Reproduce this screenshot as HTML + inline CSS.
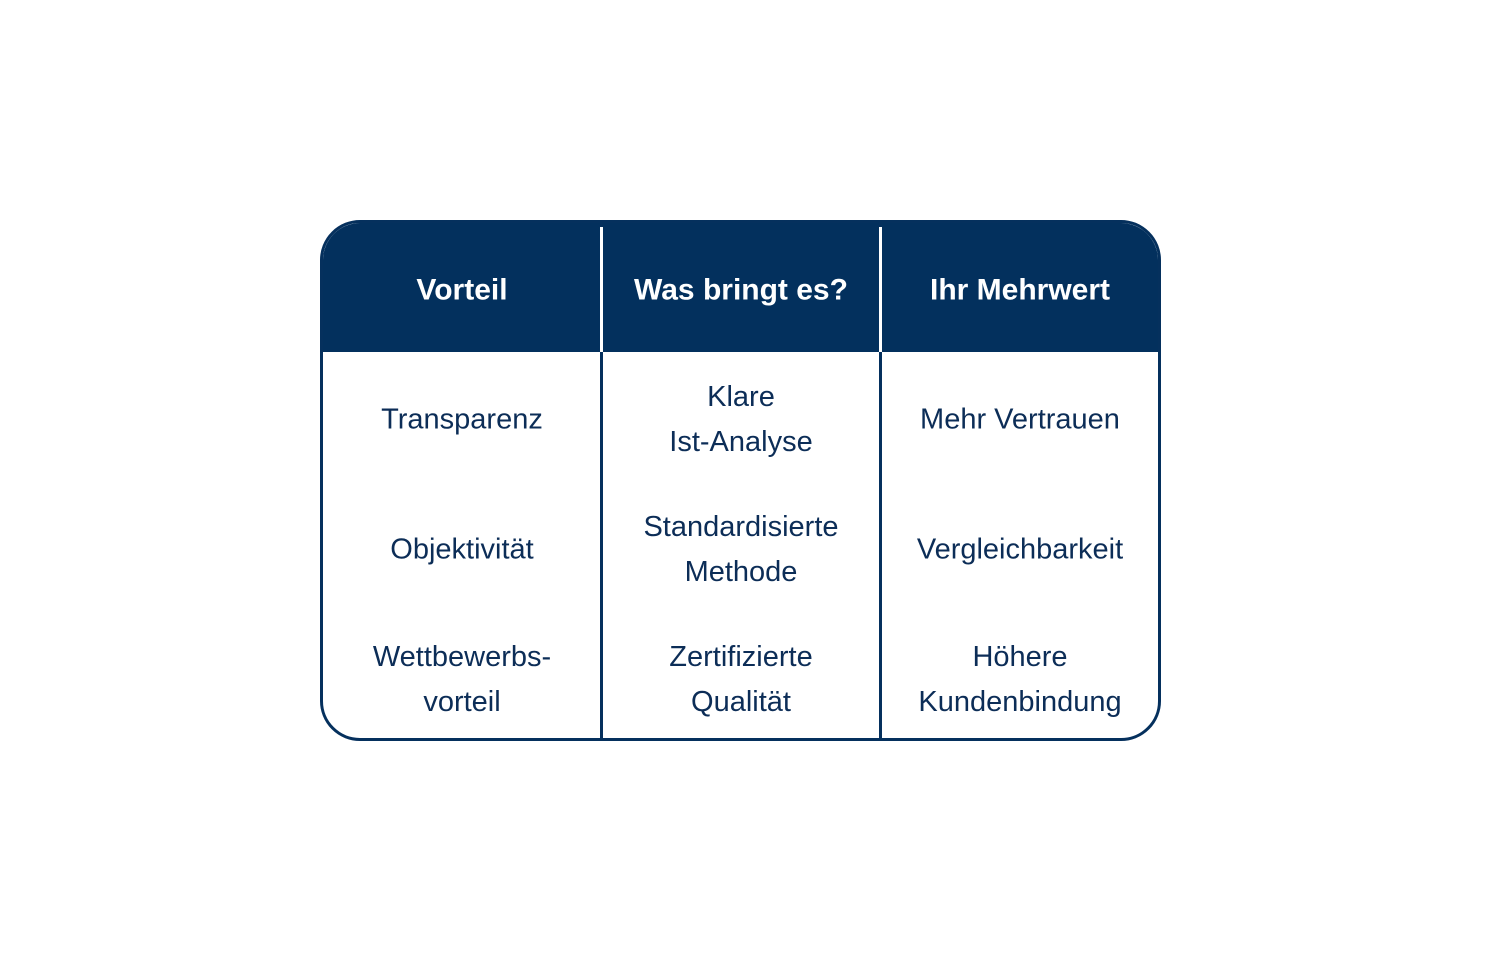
<!DOCTYPE html>
<html><head><meta charset="utf-8"><style>
body{margin:0;background:#fff;width:1500px;height:959px;position:relative;overflow:hidden;font-family:"Liberation Sans",sans-serif;}
.box{position:absolute;left:320px;top:220px;width:835px;height:515px;border:3px solid #05305d;border-radius:40px;overflow:hidden;background:#fff;}
.hdr{position:absolute;left:0;top:0;width:100%;height:129px;background:#03305d;}
.vl{position:absolute;top:0;width:3px;height:100%;background:#05305d;}
.vh{position:absolute;top:4px;width:3px;height:125px;background:#fff;}
.t{position:absolute;width:276px;text-align:center;color:#0c2d57;font-size:29px;line-height:45px;transform:translate(-50%,-50%);}
.h{color:#fff;font-weight:bold;font-size:30px;}
</style></head><body>
<div class="box">
<div class="hdr"></div>
<div class="vl" style="left:277px"></div>
<div class="vl" style="left:556px"></div>
<div class="vh" style="left:277px"></div>
<div class="vh" style="left:556px"></div>
</div>
<div class="t h" style="left:462px;top:290px">Vorteil</div>
<div class="t h" style="left:741px;top:290px">Was bringt es?</div>
<div class="t h" style="left:1020px;top:290px">Ihr Mehrwert</div>
<div class="t" style="left:462px;top:420px">Transparenz</div>
<div class="t" style="left:741px;top:420px">Klare<br>Ist-Analyse</div>
<div class="t" style="left:1020px;top:420px">Mehr Vertrauen</div>
<div class="t" style="left:462px;top:550px">Objektivität</div>
<div class="t" style="left:741px;top:550px">Standardisierte<br>Methode</div>
<div class="t" style="left:1020px;top:550px">Vergleichbarkeit</div>
<div class="t" style="left:462px;top:680px">Wettbewerbs-<br>vorteil</div>
<div class="t" style="left:741px;top:680px">Zertifizierte<br>Qualität</div>
<div class="t" style="left:1020px;top:680px">Höhere<br>Kundenbindung</div>
</body></html>
